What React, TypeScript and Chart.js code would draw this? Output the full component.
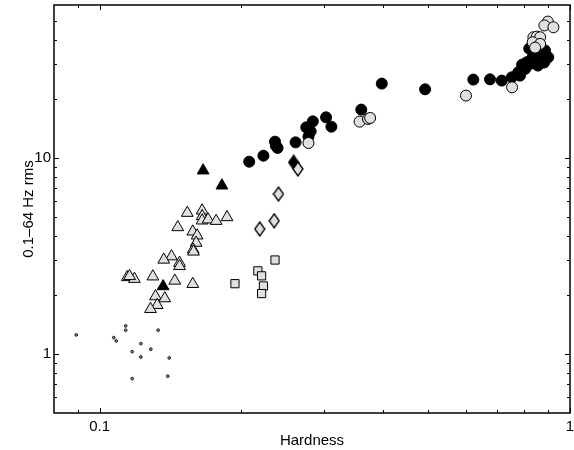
import React, { useEffect, useRef } from "react";
import { Chart, registerables } from "chart.js";

Chart.register(...registerables);

// ---- Data ----
const xTickValues = [0.1, 1];
const xTickLabels = ["0.1", "1"];
const yTickValues = [1, 10];
const yTickLabels = ["1", "10"];

const filledCircleX = [0.208, 0.223, 0.236, 0.237, 0.239, 0.261, 0.275, 0.281, 0.278, 0.284, 0.303, 0.311, 0.36, 0.398, 0.492, 0.623, 0.676, 0.716, 0.752, 0.776, 0.803, 0.823, 0.85, 0.899, 0.836, 0.85, 0.871, 0.829, 0.809, 0.839, 0.855, 0.881, 0.783, 0.819, 0.791, 0.885];
const filledCircleY = [9.54, 10.24, 12.07, 11.51, 11.21, 11.97, 14.28, 13.62, 12.8, 15.32, 16.06, 14.39, 17.58, 23.85, 22.31, 25.0, 25.08, 24.71, 25.69, 27.24, 28.35, 30.07, 31.26, 32.49, 33.82, 35.15, 33.15, 31.89, 30.64, 36.84, 29.47, 30.53, 26.2, 35.98, 29.8, 35.2];

const lightCircleX = [0.357, 0.372, 0.376, 0.278, 0.601, 0.753, 0.897, 0.882, 0.922, 0.836, 0.85, 0.864, 0.833, 0.864, 0.843];
const lightCircleY = [15.27, 15.76, 15.94, 11.88, 20.72, 22.84, 49.4, 47.2, 46.2, 41.1, 41.4, 41.1, 38.76, 38.0, 36.4];

const filledDiamondX = [0.2585];
const filledDiamondY = [9.46];

const lightDiamondX = [0.264, 0.24, 0.235, 0.219];
const lightDiamondY = [8.76, 6.53, 4.77, 4.33];

const squareX = [0.236, 0.217, 0.221, 0.223, 0.221, 0.194];
const squareY = [3.01, 2.65, 2.5, 2.22, 2.03, 2.28];

const filledTriangleX = [0.166, 0.182, 0.1365];
const filledTriangleY = [8.6, 7.21, 2.21];

const lightTriangleX = [0.1536, 0.1652, 0.1652, 0.1652, 0.1701, 0.1769, 0.1866, 0.1466, 0.1578, 0.1612, 0.1604, 0.1581, 0.1584, 0.1422, 0.1369, 0.1479, 0.1479, 0.1145, 0.1186, 0.1298, 0.1445, 0.1578, 0.1315, 0.1376, 0.1326, 0.1283, 0.1158];
const lightTriangleY = [5.23, 5.38, 5.03, 4.78, 4.84, 4.76, 4.97, 4.42, 4.2, 4.01, 3.68, 3.4, 3.32, 3.14, 3.02, 2.91, 2.8, 2.46, 2.41, 2.48, 2.36, 2.27, 1.965, 1.919, 1.774, 1.693, 2.49];

const dotX = [0.0892, 0.1136, 0.1136, 0.1332, 0.1072, 0.1085, 0.1224, 0.1173, 0.1285, 0.1224, 0.1406, 0.1173, 0.1396];
const dotY = [1.25, 1.389, 1.321, 1.321, 1.211, 1.165, 1.129, 1.027, 1.057, 0.965, 0.954, 0.748, 0.77];

const xMinorTicks = [0.09, 0.2, 0.3, 0.4, 0.5, 0.6, 0.7, 0.8, 0.9];
const yMinorTicks = [0.6, 0.7, 0.8, 0.9, 2, 3, 4, 5, 6, 7, 8, 9, 20, 30, 40, 50];

const LIGHT = "#e0e0e0";
const FONT = "'Liberation Sans', Arial, Helvetica, sans-serif";

function pts(xs: number[], ys: number[]) {
  return xs.map((x, i) => ({ x, y: ys[i] }));
}

function makeDiamond(fill: string) {
  const c = document.createElement("canvas");
  const w = 12;
  const h = 16;
  c.width = w;
  c.height = h;
  const g = c.getContext("2d")!;
  g.beginPath();
  g.moveTo(w / 2, 1);
  g.lineTo(w - 1, h / 2);
  g.lineTo(w / 2, h - 1);
  g.lineTo(1, h / 2);
  g.closePath();
  g.fillStyle = fill;
  g.fill();
  g.strokeStyle = "#000";
  g.lineWidth = 1.3;
  g.lineJoin = "miter";
  g.stroke();
  return c;
}

const framePlugin = {
  id: "frameTicks",
  afterDatasetsDraw(chart: any) {
    const { ctx, chartArea } = chart;
    const xs = chart.scales.x;
    const ys = chart.scales.y;
    const { left, right, top, bottom } = chartArea;
    ctx.save();
    ctx.strokeStyle = "#000";
    ctx.lineWidth = 1;
    const major = 5;
    const minor = 3;
    ctx.beginPath();
    const xTick = (v: number, len: number) => {
      const px = Math.round(xs.getPixelForValue(v)) + 0.5;
      ctx.moveTo(px, bottom);
      ctx.lineTo(px, bottom - len);
      ctx.moveTo(px, top);
      ctx.lineTo(px, top + len);
    };
    const yTick = (v: number, len: number) => {
      const py = Math.round(ys.getPixelForValue(v)) + 0.5;
      ctx.moveTo(left, py);
      ctx.lineTo(left + len, py);
      ctx.moveTo(right, py);
      ctx.lineTo(right - len, py);
    };
    xTickValues.forEach((v) => xTick(v, major));
    xMinorTicks.forEach((v) => xTick(v, minor));
    yTickValues.forEach((v) => yTick(v, major));
    yMinorTicks.forEach((v) => yTick(v, minor));
    ctx.stroke();
    ctx.lineWidth = 1.5;
    ctx.strokeRect(left, top, right - left, bottom - top);
    ctx.restore();
  },
};

export default function App() {
  const ref = useRef<HTMLCanvasElement | null>(null);

  useEffect(() => {
    if (!ref.current) return;
    const lightDiamond = makeDiamond(LIGHT);
    const blackDiamond = makeDiamond("#000");

    const chart = new Chart(ref.current, {
      type: "scatter",
      data: {
        datasets: [
          {
            label: "light diamonds",
            data: pts(lightDiamondX, lightDiamondY),
            pointStyle: lightDiamond as any,
          },
          {
            label: "filled diamond",
            data: pts(filledDiamondX, filledDiamondY),
            pointStyle: blackDiamond as any,
          },
          {
            label: "light circles",
            data: pts(lightCircleX, lightCircleY),
            pointStyle: "circle",
            pointRadius: 5.5,
            backgroundColor: LIGHT,
            borderColor: "#000",
            borderWidth: 1,
          },
          {
            label: "filled circles",
            data: pts(filledCircleX, filledCircleY),
            pointStyle: "circle",
            pointRadius: 5.5,
            backgroundColor: "#000",
            borderColor: "#000",
            borderWidth: 1,
          },
          {
            label: "filled triangles",
            data: pts(filledTriangleX, filledTriangleY),
            pointStyle: "triangle",
            pointRadius: 6.8,
            backgroundColor: "#000",
            borderColor: "#000",
            borderWidth: 1,
          },
          {
            label: "light triangles",
            data: pts(lightTriangleX, lightTriangleY),
            pointStyle: "triangle",
            pointRadius: 6.8,
            backgroundColor: LIGHT,
            borderColor: "#000",
            borderWidth: 1,
          },
          {
            label: "squares",
            data: pts(squareX, squareY),
            pointStyle: "rect",
            pointRadius: 5.8,
            backgroundColor: LIGHT,
            borderColor: "#000",
            borderWidth: 1,
          },
          {
            label: "dots",
            data: pts(dotX, dotY),
            pointStyle: "circle",
            pointRadius: 1.4,
            backgroundColor: "#888",
            borderColor: "#000",
            borderWidth: 0.8,
          },
        ],
      },
      options: {
        responsive: false,
        animation: false,
        events: [],
        layout: { autoPadding: false, padding: { top: 5, right: 4, left: 0, bottom: 0 } },
        plugins: {
          legend: { display: false },
          tooltip: { enabled: false },
        },
        scales: {
          x: {
            type: "logarithmic",
            position: "bottom",
            min: 0.08,
            max: 1,
            grid: { display: false, drawTicks: false },
            border: { display: false },
            afterBuildTicks: (scale: any) => {
              scale.ticks = xTickValues.map((v) => ({ value: v }));
            },
            afterFit: (scale: any) => {
              scale.height = 37;
              scale.paddingLeft = 0;
              scale.paddingRight = 0;
            },
            ticks: {
              padding: 5,
              autoSkip: false,
              maxRotation: 0,
              color: "#000",
              font: { family: FONT, size: 15 },
              callback: (v: any) => {
                const i = xTickValues.indexOf(Number(v));
                return i >= 0 ? xTickLabels[i] : "";
              },
            },
            title: {
              display: true,
              text: "Hardness",
              color: "#000",
              font: { family: FONT, size: 15 },
              padding: { top: 0, bottom: 0 },
            },
          },
          y: {
            type: "logarithmic",
            position: "left",
            min: 0.5,
            max: 60,
            grid: { display: false, drawTicks: false },
            border: { display: false },
            afterBuildTicks: (scale: any) => {
              scale.ticks = yTickValues.map((v) => ({ value: v }));
            },
            afterFit: (scale: any) => {
              scale.width = 54;
              scale.paddingTop = 0;
              scale.paddingBottom = 0;
            },
            ticks: {
              padding: 3,
              autoSkip: false,
              color: "#000",
              font: { family: FONT, size: 15 },
              callback: (v: any) => {
                const i = yTickValues.indexOf(Number(v));
                return i >= 0 ? yTickLabels[i] : "";
              },
            },
            title: {
              display: true,
              text: "0.1\u201364 Hz rms",
              color: "#000",
              font: { family: FONT, size: 15 },
              padding: { top: 20, bottom: 0 },
            },
          },
        },
      },
      plugins: [framePlugin],
    });
    return () => chart.destroy();
  }, []);

  return (
    <div
      style={{
        position: "fixed",
        left: 0,
        top: 0,
        width: 574,
        height: 450,
        background: "#fff",
      }}
    >
      <canvas ref={ref} width={574} height={450} style={{ display: "block", width: 574, height: 450 }} />
    </div>
  );
}
